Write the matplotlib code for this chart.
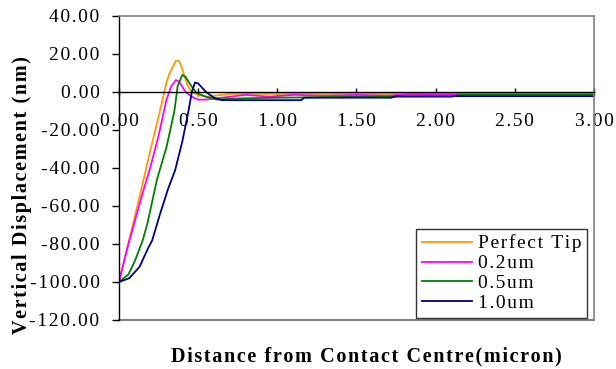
import matplotlib
matplotlib.use("Agg")
import matplotlib.pyplot as plt
from matplotlib.ticker import FuncFormatter

plt.rcParams['font.family'] = ['Liberation Serif', 'DejaVu Serif']

# data
x_perfect = [0, 0.05, 0.10, 0.15, 0.20, 0.25, 0.30, 0.32, 0.36, 0.38, 0.40, 0.43, 0.46,
             0.50, 0.55, 0.60, 0.70, 1.00, 1.50, 2.00, 2.50, 3.00]
y_perfect = [-100, -83, -65.5, -48, -30, -13, 5, 10, 16.5, 16.3, 12, 4, 0,
             -1.5, -2.5, -2, -1, -1, -1, -1, -1, -1]

x_02 = [0, 0.05, 0.10, 0.15, 0.20, 0.25, 0.30, 0.33, 0.36, 0.38, 0.42, 0.46, 0.50,
        0.55, 0.65, 0.80, 0.95, 1.10, 1.30, 1.50, 1.70, 1.85, 2.00, 3.00]
y_02 = [-100, -83, -68, -53, -39, -23, -4, 3, 6.3, 5.5, 0, -2.5, -4,
        -4, -3, -1.5, -2.5, -1.5, -2, -1.5, -2, -1, -1.2, -1.2]

x_05 = [0, 0.06, 0.10, 0.15, 0.18, 0.24, 0.30, 0.35, 0.37, 0.40, 0.42, 0.45, 0.49,
        0.55, 0.62, 0.70, 1.00, 1.50, 2.10, 2.15, 3.00]
y_05 = [-100, -96, -89, -78, -69, -46, -29, -10, 3, 9, 8, 4, -0.5,
        -2.5, -4, -3.5, -3, -2.5, -2.5, -1.5, -1.5]

x_10 = [0, 0.065, 0.13, 0.185, 0.21, 0.26, 0.31, 0.355, 0.40, 0.44, 0.46, 0.48, 0.50,
        0.55, 0.60, 0.65, 1.15, 1.17, 1.72, 1.75, 3.00]
y_10 = [-100, -98, -92, -82, -78, -64, -51, -41, -26, -9.5, 0, 5, 4.5,
        0, -3, -4.3, -4.3, -3, -3, -2.2, -2.2]

labels = ['Perfect Tip', '0.2um', '0.5um', '1.0um']
colors = ['#FF9900', '#FF00FF', '#008000', '#000080']
series = [(x_perfect, y_perfect), (x_02, y_02), (x_05, y_05), (x_10, y_10)]

x_ticks = [0, 0.5, 1.0, 1.5, 2.0, 2.5, 3.0]
y_ticks = [-120, -100, -80, -60, -40, -20, 0, 20, 40]


def spaced(s):
    # the original text is drawn with a little extra letter spacing
    return '\u200a'.join(s)


fig = plt.figure(figsize=(6.16, 3.69), dpi=100)
ax = fig.add_axes([119/616, 1 - 320/369, (594 - 119)/616, (320 - 16)/369])

for (xs, ys), lab, col in zip(series, labels, colors):
    ax.plot(xs, ys, color=col, lw=1.3, label=spaced(lab))

ax.set_xlim(0, 3)
ax.set_ylim(-120, 40)
ax.set_xticks(x_ticks)
ax.set_yticks(y_ticks)
fmt = FuncFormatter(lambda v, p: spaced(f"{v:.2f}"))
ax.xaxis.set_major_formatter(fmt)
ax.yaxis.set_major_formatter(fmt)

# x axis runs through zero, grey frame round the plot area
ax.spines['bottom'].set_position(('data', 0))
ax.spines['bottom'].set_color('black')
ax.spines['bottom'].set_linewidth(1.0)
ax.spines['left'].set_color('black')
ax.spines['left'].set_linewidth(1.0)
for s in ['top', 'right']:
    ax.spines[s].set_color('#808080')
    ax.spines[s].set_linewidth(1.2)
ax.axhline(-120, color='#808080', lw=1.5, clip_on=False, zorder=0)

ax.tick_params(axis='y', direction='out', length=5, width=1, pad=9, labelsize=14)
ax.tick_params(axis='x', direction='inout', length=6, width=1, pad=12, labelsize=14)

leg = ax.legend(loc='lower right', bbox_to_anchor=(0.99, 0.0), fontsize=14, frameon=True,
                fancybox=False, borderpad=0.3, labelspacing=0.12, handlelength=2.6,
                handletextpad=0.3, borderaxespad=0.1)
leg.get_frame().set_edgecolor('black')
leg.get_frame().set_linewidth(1.0)

fig.text(366/616, 1 - 356/369, spaced("Distance from Contact Centre(micron)"),
         ha='center', va='center', fontsize=14.5, fontweight='bold')
fig.text(22/616, 1 - 195/369, spaced("Vertical Displacement (nm)"), ha='center', va='center',
         rotation=90, fontsize=14.5, fontweight='bold')

fig.savefig("out.png", dpi=100)
